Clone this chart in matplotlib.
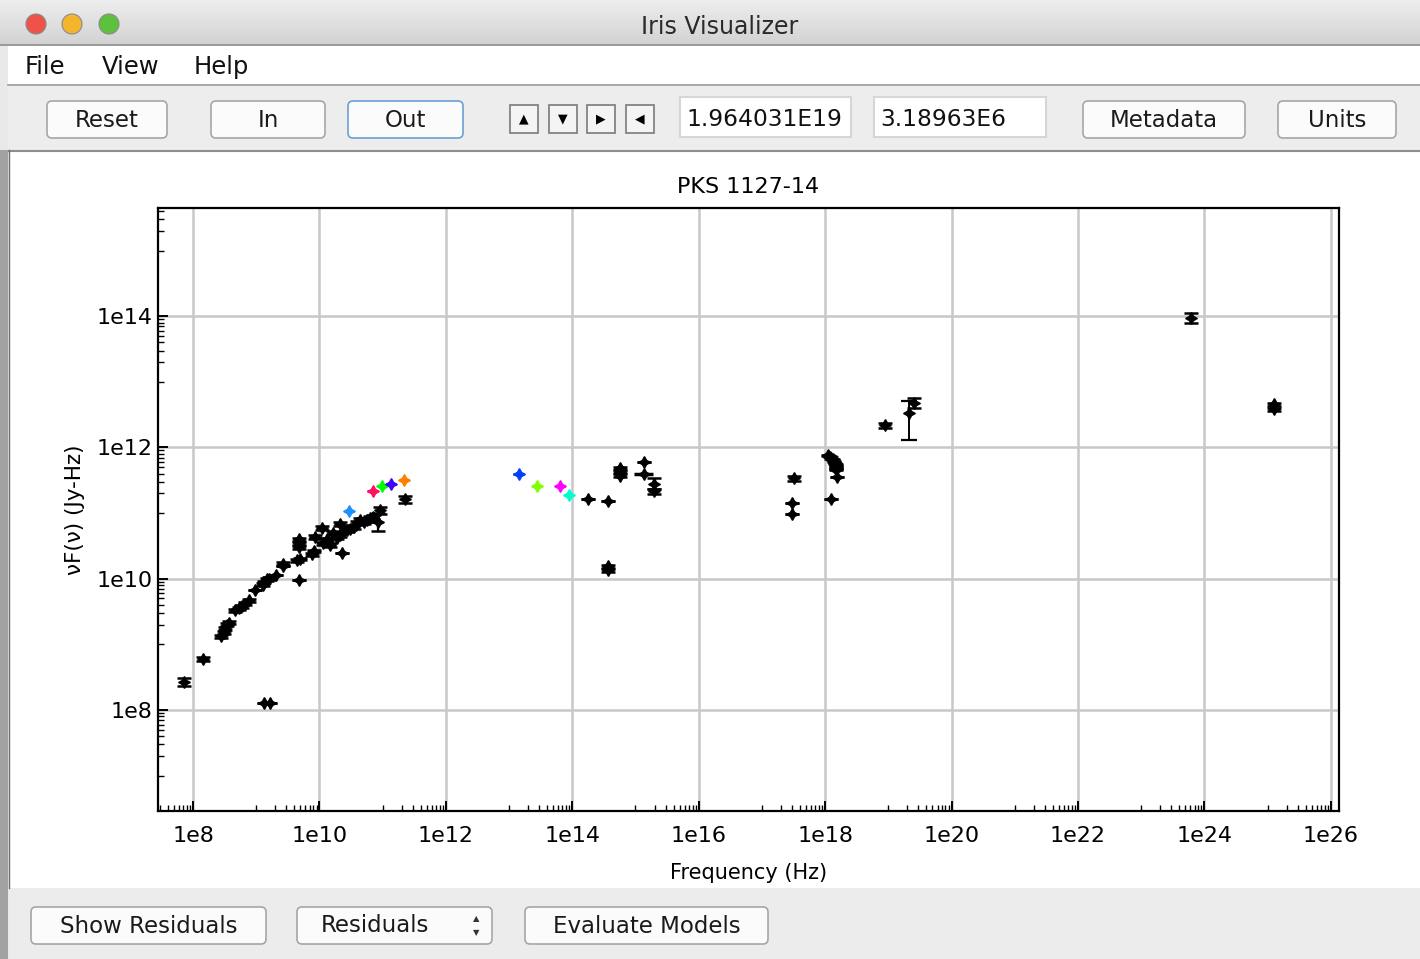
import numpy as np
import matplotlib
matplotlib.use("Agg")
from matplotlib import pyplot as plt
from matplotlib.patches import Rectangle, FancyBboxPatch, Circle
from matplotlib.ticker import FixedLocator, FuncFormatter, NullFormatter

# ---- data (log10 of frequency in Hz, log10 of nuFnu in Jy-Hz) ----
# black photometry points, with symmetric error in dex (0 = no visible bar)
black_logx = [7.85, 8.16, 9.13, 9.22,
              8.45, 8.49, 8.51, 8.54, 8.57,
              8.66, 8.72, 8.77, 8.83, 8.88, 8.98,
              9.10, 9.13, 9.17, 9.20, 9.32, 9.43, 9.43,
              9.68, 9.64, 9.70, 9.68, 9.68, 9.68,
              9.88, 9.92, 9.93, 10.04, 10.06, 10.12,
              10.17, 10.22, 10.27, 10.33, 10.35, 10.33,
              10.43, 10.48, 10.54, 10.59, 10.64, 10.70, 10.75, 10.80, 10.85,
              10.96, 10.93, 11.35,
              14.25, 14.57, 14.57, 14.57, 14.75, 14.75, 14.75,
              15.13, 15.13, 15.30, 15.30,
              17.50, 17.47, 17.47, 18.09, 18.19,
              18.05, 18.08, 18.10, 18.12, 18.14, 18.15, 18.17, 18.17, 18.18, 18.18,
              18.94, 19.40, 23.79, 25.10, 25.10]
black_logy = [8.43, 8.77, 8.11, 8.11,
              9.12, 9.18, 9.24, 9.30, 9.33,
              9.52, 9.55, 9.58, 9.62, 9.67, 9.83,
              9.91, 9.95, 9.99, 10.00, 10.06, 10.23, 10.20,
              9.98, 10.28, 10.30, 10.48, 10.54, 10.60,
              10.37, 10.42, 10.64, 10.77, 10.54, 10.60,
              10.51, 10.69, 10.62, 10.84, 10.39, 10.66,
              10.74, 10.76, 10.79, 10.85, 10.89, 10.87, 10.89, 10.92, 10.94,
              11.04, 10.86, 11.21,
              11.22, 11.19, 10.13, 10.19, 11.57, 11.63, 11.68,
              11.78, 11.59, 11.45, 11.33,
              11.53, 11.16, 10.99, 11.22, 11.55,
              11.88, 11.86, 11.84, 11.82, 11.79, 11.76, 11.74, 11.71, 11.68, 11.66,
              12.34, 12.68, 13.97, 12.66, 12.58]
black_err = [0.06, 0.03, 0.0, 0.0,
             0.02, 0.02, 0.02, 0.02, 0.02,
             0.02, 0.02, 0.02, 0.02, 0.02, 0.0,
             0.02, 0.02, 0.02, 0.02, 0.0, 0.02, 0.0,
             0.0, 0.02, 0.02, 0.02, 0.02, 0.02,
             0.02, 0.02, 0.03, 0.03, 0.02, 0.02,
             0.03, 0.03, 0.02, 0.03, 0.0, 0.03,
             0.03, 0.02, 0.03, 0.03, 0.03, 0.03, 0.03, 0.03, 0.03,
             0.06, 0.14, 0.05,
             0.0, 0.0, 0.02, 0.02, 0.02, 0.02, 0.02,
             0.0, 0.0, 0.08, 0.04,
             0.04, 0.0, 0.0, 0.0, 0.0,
             0.01, 0.01, 0.01, 0.01, 0.01, 0.01, 0.01, 0.01, 0.01, 0.01,
             0.04, 0.08, 0.08, 0.02, 0.02]

# the one X-ray point with a big asymmetric bar
wide_logx = [19.32]
wide_logy = [12.52]
wide_lo = [0.41]
wide_hi = [0.19]

# coloured catalogue points
color_logx = [10.47, 10.84, 10.99, 11.13, 11.34, 13.15, 13.44, 13.81, 13.95]
color_logy = [11.03, 11.33, 11.41, 11.45, 11.50, 11.59, 11.42, 11.42, 11.28]
color_list = ['#1E90FF', '#FF1060', '#00FF00', '#4000FF', '#FF8000',
              '#0040FF', '#80FF00', '#FF00FF', '#00FFCC']

title = "PKS 1127-14"
x_label = "Frequency (Hz)"
y_label = "\u03bdF(\u03bd) (Jy-Hz)"
x_major_exp = [8, 10, 12, 14, 16, 18, 20, 22, 24, 26]
y_major_exp = [8, 10, 12, 14]

# ---- figure ----
W, H = 1420, 959
fig = plt.figure(figsize=(W / 100, H / 100), dpi=100)
plt.rcParams['font.family'] = ['DejaVu Sans']

bg = fig.add_axes([0, 0, 1, 1], zorder=0)
bg.set_xlim(0, W)
bg.set_ylim(H, 0)
bg.axis('off')


def rect(x0, y0, x1, y1, fc, ec='none', lw=0, z=1):
    bg.add_patch(Rectangle((x0, y0), x1 - x0, y1 - y0, fc=fc, ec=ec, lw=lw, zorder=z))


def button(x0, y0, x1, y1, label, ec='#A6A6A6', size=16.5):
    bg.add_patch(FancyBboxPatch((x0, y0), x1 - x0, y1 - y0,
                                boxstyle="round,pad=0,rounding_size=5",
                                fc='#FBFBFB', ec=ec, lw=1.2, zorder=3))
    bg.text((x0 + x1) / 2, (y0 + y1) / 2 + 1, label, ha='center', va='center',
            fontsize=size, color='#1A1A1A', zorder=4)


# window background
rect(0, 0, W, H, '#E9E9E9')
# title bar gradient
grad = np.linspace(0, 1, 50).reshape(-1, 1)
bg.imshow(grad, extent=(0, W, 45, 0), cmap=matplotlib.colors.LinearSegmentedColormap.from_list(
    'tb', ['#EEEEEE', '#D2D2D2']), aspect='auto', zorder=1)
bg.plot([0, W], [45, 45], color='#8E8E8E', lw=1.2, zorder=2)
for cx, c in zip([36, 72, 109], ['#F0524A', '#F4B42C', '#5CC23E']):
    bg.add_patch(Circle((cx, 24), 10, fc=c, ec='#8A8A8A', lw=0.8, zorder=3))
bg.text(720, 27, "Iris Visualizer", ha='center', va='center', fontsize=17, color='#2A2A2A', zorder=4)

# menu bar
rect(8, 46, W, 84, 'white', z=1)
for x, s in zip([25, 102, 194], ["File", "View", "Help"]):
    bg.text(x, 67, s, ha='left', va='center', fontsize=17.5, color='#111111', zorder=4)
bg.plot([8, W], [84.5, 84.5], color='#9C9C9C', lw=1.2, zorder=2)

# toolbar
rect(8, 85, W, 150, '#EDEDED')
button(47, 101, 167, 138, "Reset")
button(211, 101, 325, 138, "In")
button(348, 101, 463, 138, "Out", ec='#6C9FD6')
for x0, sym in zip([510, 549, 587, 626], ['\u25b2', '\u25bc', '\u25b6', '\u25c0']):
    bg.add_patch(Rectangle((x0, 105), 28, 28, fc='#F4F4F4', ec='#7A7A7A', lw=1.2, zorder=3))
    bg.text(x0 + 14, 119, sym, ha='center', va='center', fontsize=9, color='black', zorder=4)
for x0, x1, s in [(680, 851, "1.964031E19"), (874, 1046, "3.18963E6")]:
    bg.add_patch(Rectangle((x0, 97), x1 - x0, 40, fc='white', ec='#D6D6D6', lw=1.5, zorder=3))
    bg.text(x0 + 6, 119, s, ha='left', va='center', fontsize=16.8, color='#111111', zorder=4)
button(1083, 101, 1245, 138, "Metadata")
button(1278, 101, 1396, 138, "Units")
bg.plot([8, W], [150.5, 150.5], color='#8E8E8E', lw=1.5, zorder=2)

# plot panel and left window edge
rect(10, 152, W, 888, 'white')
rect(0, 150, 8, H, '#A2A2A2', z=2)
bg.plot([9, 9], [150, 888], color='#6E6E6E', lw=1, zorder=2)

# bottom bar
rect(10, 888, W, H, '#ECECEC')
button(31, 907, 266, 944, "Show Residuals")
bg.add_patch(FancyBboxPatch((297, 907), 195, 37, boxstyle="round,pad=0,rounding_size=5",
                            fc='#FBFBFB', ec='#A6A6A6', lw=1.2, zorder=3))
bg.text(321, 926, "Residuals", ha='left', va='center', fontsize=16.5, color='#1A1A1A', zorder=4)
bg.text(476, 919, '\u25b2', ha='center', va='center', fontsize=6, color='#333333', zorder=4)
bg.text(476, 933, '\u25bc', ha='center', va='center', fontsize=6, color='#333333', zorder=4)
button(525, 907, 768, 944, "Evaluate Models")

# ---- the plot itself ----
ax = fig.add_axes([158 / W, 1 - 811 / H, 1181 / W, 603 / H], zorder=2)
ax.set_xscale('log')
ax.set_yscale('log')
ax.set_xlim(10 ** 7.446, 10 ** 26.13)
ax.set_ylim(10 ** 6.46, 10 ** 15.65)

bx = 10.0 ** np.array(black_logx)
by = 10.0 ** np.array(black_logy)
be = np.array(black_err)
yerr = np.vstack([by - by * 10 ** -be, by * 10 ** be - by])
ax.errorbar(bx, by, yerr=yerr, fmt='none', ecolor='black', elinewidth=1.6,
            capsize=5, capthick=1.8, zorder=3)
ax.plot(bx, by, linestyle='none', marker=(4, 1, 0), ms=8.5, color='black', zorder=4)

wx = 10.0 ** np.array(wide_logx)
wy = 10.0 ** np.array(wide_logy)
werr = np.vstack([wy - wy * 10 ** -np.array(wide_lo), wy * 10 ** np.array(wide_hi) - wy])
ax.errorbar(wx, wy, yerr=werr, fmt='none', ecolor='black', elinewidth=1.4,
            capsize=6, capthick=1.6, zorder=3)
ax.plot(wx, wy, linestyle='none', marker=(4, 1, 0), ms=8.5, color='black', zorder=4)

# one optical point also has a horizontal bar
ax.errorbar([10 ** 15.13], [10 ** 11.59], xerr=[[10 ** 15.13 - 10 ** 14.98], [10 ** 15.28 - 10 ** 15.13]],
            fmt='none', ecolor='black', elinewidth=2.5, capsize=0, zorder=3)

for lx, ly, c in zip(color_logx, color_logy, color_list):
    x, y = 10 ** lx, 10 ** ly
    ax.errorbar([x], [y], xerr=[[x - x * 10 ** -0.08], [x * 10 ** 0.08 - x]],
                fmt='none', ecolor=c, elinewidth=2, capsize=0, zorder=3)
    ax.plot([x], [y], linestyle='none', marker=(4, 1, 0), ms=8.5, color=c, zorder=4)

# ticks: labelled every second decade, small ticks in the decade before
ax.xaxis.set_major_locator(FixedLocator([10.0 ** e for e in x_major_exp]))
ax.yaxis.set_major_locator(FixedLocator([10.0 ** e for e in y_major_exp]))
x_minor = [k * 10.0 ** e for e in range(7, 27, 2) for k in range(1, 10)]
y_minor = [k * 10.0 ** e for e in range(5, 17, 2) for k in range(1, 10)]
ax.xaxis.set_minor_locator(FixedLocator(x_minor))
ax.yaxis.set_minor_locator(FixedLocator(y_minor))
fmt = FuncFormatter(lambda v, p: "1e%d" % round(np.log10(v)))
ax.xaxis.set_major_formatter(fmt)
ax.yaxis.set_major_formatter(fmt)
ax.xaxis.set_minor_formatter(NullFormatter())
ax.yaxis.set_minor_formatter(NullFormatter())
ax.tick_params(which='major', direction='in', length=7, width=1.4, labelsize=16,
               top=False, right=False, colors='black')
ax.tick_params(axis='x', which='major', pad=11)
ax.tick_params(axis='y', which='major', pad=4)
ax.tick_params(which='minor', direction='in', length=4, width=1.0, top=False, right=False)
ax.grid(True, which='major', color='#C8C8C8', lw=1.8, zorder=0)
ax.set_axisbelow(True)
for sp in ax.spines.values():
    sp.set_linewidth(1.6)

ax.set_title(title, fontsize=16, pad=11)
ax.set_xlabel(x_label, fontsize=15, labelpad=12)
ax.set_ylabel(y_label, fontsize=15.5, labelpad=8)

fig.savefig("out.png", dpi=100)
